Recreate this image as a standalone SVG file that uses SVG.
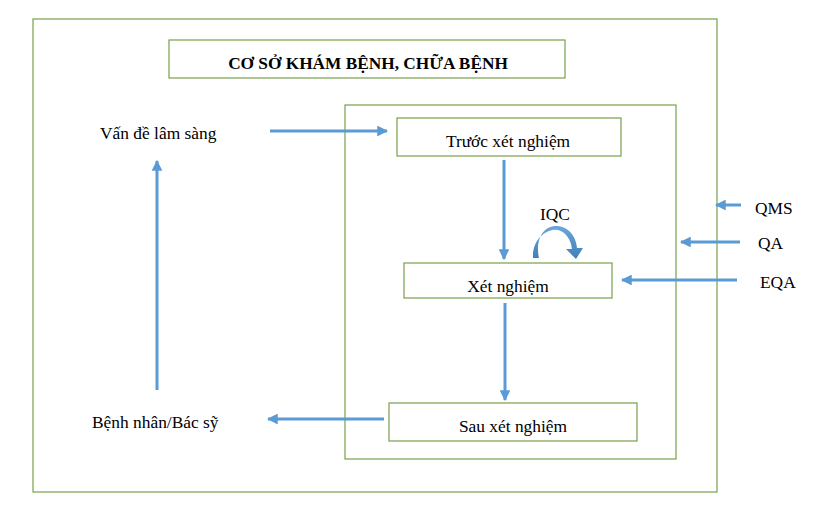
<svg xmlns="http://www.w3.org/2000/svg" width="817" height="510" viewBox="0 0 817 510">
<style>
.box{fill:#fff;stroke:#77a04a;stroke-width:1.2}
.frame{fill:none;stroke:#77a04a;stroke-width:1.2}
.t{font-family:"Liberation Serif","Times New Roman",serif;font-size:17.4px;fill:#000}
.c{text-anchor:middle}
.b{font-weight:bold;font-size:17.3px}
.ar{stroke:#5b9bd5;stroke-width:3;fill:none;marker-end:url(#ah)}
</style>
<defs>
<marker id="ah" viewBox="0 0 10 10" refX="9" refY="5" markerWidth="3.6" markerHeight="3.6" orient="auto" markerUnits="strokeWidth">
<path d="M0,0 L10,5 L0,10 Z" fill="#5b9bd5"/>
</marker>
<linearGradient id="g" x1="0" y1="0" x2="0" y2="1">
<stop offset="0" stop-color="#6ea6da"/>
<stop offset="1" stop-color="#3f7fb8"/>
</linearGradient>
</defs>
<rect x="0" y="0" width="817" height="510" fill="#fff"/>
<g id="outer"><rect class="frame" x="33" y="19" width="684" height="473"/></g>
<g id="title"><rect class="box" x="169" y="40" width="396" height="38"/><text class="t c b" x="368" y="69">CƠ SỞ KHÁM BỆNH, CHỮA BỆNH</text></g>
<g id="lab"><rect class="frame" x="345" y="105" width="331" height="354"/></g>
<g id="pre"><rect class="box" x="397" y="118" width="224" height="38"/><text class="t c" x="508" y="147">Trước xét nghiệm</text></g>
<g id="test"><rect class="box" x="404" y="263" width="208" height="35"/><text class="t c" x="508" y="292">Xét nghiệm</text></g>
<g id="post"><rect class="box" x="389" y="403" width="248" height="38"/><text class="t c" x="513" y="432">Sau xét nghiệm</text></g>
<g id="clinical"><text class="t" x="100" y="139">Vấn đề lâm sàng</text></g>
<g id="patient"><text class="t" x="92" y="428">Bệnh nhân/Bác sỹ</text></g>
<g id="qms"><text class="t" x="755" y="214">QMS</text></g>
<g id="qa"><text class="t" x="758" y="249">QA</text></g>
<g id="eqa"><text class="t" x="760" y="288">EQA</text></g>
<g id="iqc"><text class="t" x="540" y="220">IQC</text>
<path d="M533,258 C532,238 548,228 558,230 C566,232 571,240 572,249 L566,249 L576,259 L583,248 L577,248 C576,236 568,226 556,226 C543,226 535,240 539,258 Z" fill="url(#g)"/>
</g>
<g id="connectors">
<line class="ar" x1="270" y1="131" x2="387" y2="131"/>
<line class="ar" x1="157" y1="390" x2="157" y2="161"/>
<line class="ar" x1="384" y1="419" x2="268" y2="419"/>
<line class="ar" x1="504" y1="160" x2="504" y2="259"/>
<line class="ar" x1="505" y1="303" x2="505" y2="400"/>
<line class="ar" x1="741" y1="205" x2="716" y2="205"/>
<line class="ar" x1="740" y1="242" x2="681" y2="242"/>
<line class="ar" x1="737" y1="280" x2="622" y2="280"/>
</g>
</svg>
